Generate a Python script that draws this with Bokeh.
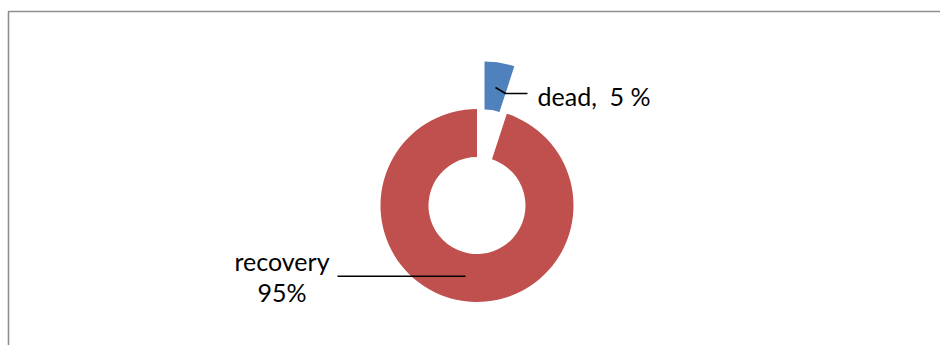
import math
from bokeh.plotting import figure
from bokeh.models import Range1d
from bokeh.core.properties import value
from bokeh.embed import file_html
from bokeh.resources import INLINE

# Data
categories = ["dead", "recovery"]
percents = [5, 95]
label_texts = ["dead,\u00a0 5 %", "recovery\n95%"]
colors = ["#4F81BD", "#C0504D"]

W, H = 940, 345
p = figure(width=W, height=H, output_backend="svg", toolbar_location=None,
           x_range=Range1d(0, W), y_range=Range1d(0, H), min_border=0)
p.axis.visible = False
p.grid.visible = False
p.outline_line_color = None
p.background_fill_color = "white"
p.border_fill_color = "white"

def Y(py):
    return H - py

# chart border
p.line([8, 8, 960], [Y(360), Y(11), Y(11)], line_color="#8f8f8f", line_width=1.6)

cx, cy = 476.5, Y(205)
r_out, r_in = 96.5, 48.5
explode = [48, 0]

total = sum(percents)
start = 0.0
for cat, pc, col, ex in zip(categories, percents, colors, explode):
    frac = pc / total
    a0 = start
    a1 = start + frac * 360
    start = a1
    # Excel: clockwise from 12 o'clock -> bokeh ccw from +x
    s = math.radians(90 - a1)
    e = math.radians(90 - a0)
    mid = (s + e) / 2
    x = cx + ex * math.cos(mid)
    y = cy + ex * math.sin(mid)
    p.annular_wedge(x=[x], y=[y], inner_radius=r_in, outer_radius=r_out,
                    start_angle=[s], end_angle=[e], fill_color=col,
                    line_color=None)

font = value("Lato")
fs = "25px"
# dead label
p.line([495, 505, 527], [Y(87), Y(93), Y(93)], line_color="black", line_width=1.5)
p.text(x=[537], y=[Y(95.5)], text=[label_texts[0]], text_font=font,
       text_font_size=fs, text_align="left", text_baseline="middle",
       text_color="black")
# recovery label
p.line([337, 465], [Y(275.7), Y(275.7)], line_color="black", line_width=1.5)
lines = label_texts[1].split("\n")
p.text(x=[281.5, 281.5], y=[Y(260.5), Y(291.5)], text=lines, text_font=font,
       text_font_size=fs, text_align="center", text_baseline="middle",
       text_color="black")

open("out.html", "w").write(file_html(p, INLINE))
